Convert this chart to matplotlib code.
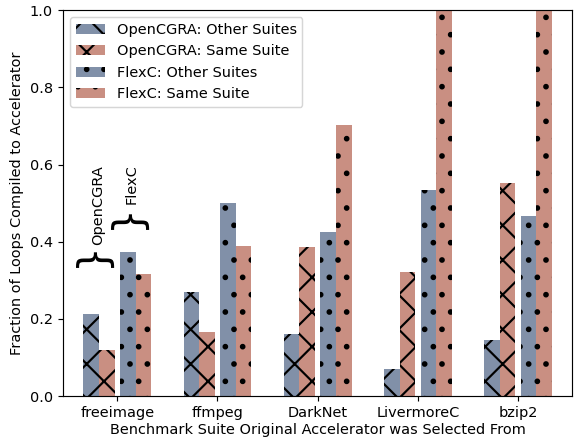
import numpy as np
import matplotlib
matplotlib.use("Agg")
import matplotlib.pyplot as plt
from matplotlib.patches import Patch

suites = ["freeimage", "ffmpeg", "DarkNet", "LivermoreC", "bzip2"]
opencgra_other = [0.212, 0.269, 0.161, 0.070, 0.145]
opencgra_same = [0.119, 0.166, 0.386, 0.321, 0.552]
flexc_other = [0.373, 0.500, 0.425, 0.534, 0.466]
flexc_same = [0.316, 0.389, 0.702, 1.000, 1.000]

blue = "#8190a8"
red = "#c98f82"

plt.rcParams["hatch.linewidth"] = 1.5

# rendered slightly above 100 dpi so text matches the reference scale
dpi = 104
fig, ax = plt.subplots(figsize=(574 / dpi, 444 / dpi), dpi=dpi)
fig.subplots_adjust(left=0.11, right=0.997, bottom=0.108, top=0.977)

x = np.arange(len(suites))
w = 0.155
ax.bar(x - 0.26, opencgra_other, w, color=blue, hatch="x")
ax.bar(x - 0.105, opencgra_same, w, color=red, hatch="x")
ax.bar(x + 0.105, flexc_other, w, color=blue, hatch=".")
ax.bar(x + 0.26, flexc_same, w, color=red, hatch=".")

ax.set_xticks(x)
ax.set_xticklabels(suites)
ax.set_xlim(-0.54, 4.54)
ax.set_ylim(0, 1.0)
ax.set_ylabel("Fraction of Loops Compiled to Accelerator")
ax.set_xlabel("Benchmark Suite Original Accelerator was Selected From", labelpad=2)

# brace annotations over the first group
ax.text(-0.255, 0.367, "}", rotation=90, fontsize=28, ha="center", va="center")
ax.text(-0.195, 0.392, "OpenCGRA", rotation=90, fontsize=10, ha="center", va="bottom")
ax.text(0.095, 0.467, "}", rotation=90, fontsize=28, ha="center", va="center")
ax.text(0.14, 0.497, "FlexC", rotation=90, fontsize=10, ha="center", va="bottom")

handles = [
    Patch(facecolor=blue, hatch="x", label="OpenCGRA: Other Suites"),
    Patch(facecolor=red, hatch="x", label="OpenCGRA: Same Suite"),
    Patch(facecolor=blue, hatch=".", label="FlexC: Other Suites"),
    Patch(facecolor=red, hatch=".", label="FlexC: Same Suite"),
]
ax.legend(handles=handles, loc="upper left")

fig.savefig("out.png", dpi=dpi)
